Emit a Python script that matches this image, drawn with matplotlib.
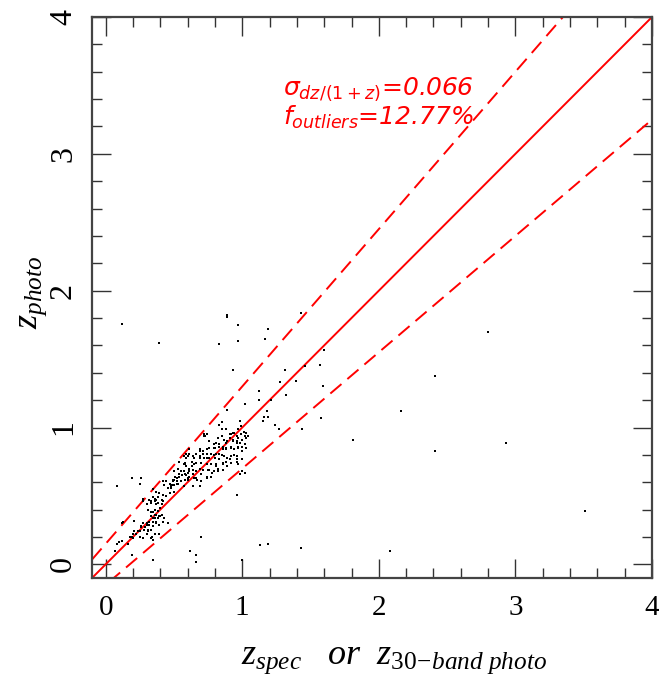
import numpy as np
import matplotlib
matplotlib.use("Agg")
import matplotlib.pyplot as plt
from matplotlib.ticker import MultipleLocator

plt.rcParams['font.family'] = ['Liberation Serif', 'DejaVu Serif']
plt.rcParams['mathtext.fontset'] = 'custom'
plt.rcParams['mathtext.rm'] = 'Liberation Serif'
plt.rcParams['mathtext.it'] = 'Liberation Serif:italic'

# spectroscopic / 30-band redshift vs photometric redshift
# scattered points and outliers
z_spec = [
    1.43, 2.80, 1.60, 1.57, 1.46, 2.41, 1.59, 2.16, 1.58, 1.44, 1.81, 2.93, 2.41, 3.51, 1.43, 2.08,
    0.12, 0.39, 0.885, 0.89, 0.97, 0.83, 0.97, 1.19, 1.17, 0.93, 1.31, 1.28, 1.39, 1.32, 1.12, 1.12,
    1.21, 1.02, 0.89, 1.18, 1.19, 1.16, 1.24, 1.27, 1.15,
    0.46, 0.70, 0.62, 0.66, 0.66, 1.00, 1.13, 1.19,
    0.08, 0.19, 0.26, 0.25, 0.35, 0.19, 0.08, 0.10, 0.12, 0.07, 0.16, 0.19, 0.12, 0.13, 0.21, 0.27,
    0.34, 0.35,
    0.93, 0.97, 0.98, 0.99, 1.01, 1.03, 1.02, 0.96, 0.92, 0.88, 0.91, 0.85,
    0.93, 0.96, 0.98, 0.89, 0.87, 0.85, 0.82, 0.81, 0.79, 0.76, 0.74, 0.72, 0.88, 0.86, 0.83, 0.80,
    0.92, 0.94, 0.97, 1.00, 1.03,
    0.69, 0.66, 0.71, 0.74, 0.77, 0.81, 0.85, 0.87, 0.89, 0.92, 0.94, 0.88, 0.83, 0.80, 0.76, 0.72,
    0.69, 0.65, 0.61, 0.59, 0.57, 0.63, 0.66, 0.70, 0.74, 0.77, 0.81, 0.86, 0.89, 0.96, 1.02, 0.98,
    0.96,
    0.54, 0.57, 0.59, 0.61, 0.64, 0.69, 0.71, 0.75, 0.79, 0.82, 0.55, 0.58, 0.60, 0.64, 0.66, 0.70,
    0.74, 0.53, 0.50,
    0.44, 0.47, 0.49, 0.52, 0.54, 0.48, 0.50, 0.53, 0.55, 0.58, 0.60, 0.46, 0.43, 0.57, 0.64, 0.69,
    0.42,
    0.35, 0.37, 0.39, 0.42, 0.44, 0.38, 0.41, 0.47, 0.50, 0.35, 0.32,
    0.27, 0.30, 0.33, 0.36, 0.31, 0.33, 0.36, 0.38, 0.35, 0.37, 0.39, 0.41, 0.32, 0.30, 0.27, 0.26,
    0.28, 0.31, 0.33, 0.35, 0.42, 0.22, 0.25, 0.27, 0.30, 0.20, 0.21, 0.33, 0.36, 0.39,
]
z_phot = [
    1.84, 1.70, 1.57, 1.46, 1.45, 1.38, 1.30, 1.12, 1.07, 0.99, 0.91, 0.89, 0.83, 0.39, 0.12, 0.10,
    1.76, 1.62, 1.81, 1.82, 1.75, 1.61, 1.63, 1.72, 1.65, 1.42, 1.42, 1.33, 1.34, 1.24, 1.27, 1.20,
    1.20, 1.17, 1.13, 1.12, 1.08, 1.08, 1.02, 0.99, 1.05,
    0.30, 0.20, 0.10, 0.07, 0.02, 0.03, 0.14, 0.15,
    0.57, 0.63, 0.63, 0.59, 0.03, 0.07, 0.15, 0.16, 0.17, 0.10, 0.15, 0.20, 0.30, 0.31, 0.32, 0.48,
    0.20, 0.18,
    0.96, 0.99, 1.05, 1.01, 0.97, 0.96, 0.94, 0.94, 0.95, 0.99, 0.92, 0.99,
    0.91, 0.90, 0.89, 0.90, 0.91, 0.94, 0.92, 0.89, 0.88, 0.90, 0.95, 0.94, 0.85, 0.84, 0.86, 0.85,
    0.85, 0.84, 0.85, 0.86, 0.92,
    0.84, 0.81, 0.83, 0.81, 0.81, 0.81, 0.80, 0.79, 0.78, 0.79, 0.80, 0.75, 0.77, 0.78, 0.78, 0.78,
    0.79, 0.78, 0.84, 0.81, 0.79, 0.75, 0.74, 0.74, 0.73, 0.73, 0.73, 0.73, 0.72, 0.77, 0.67, 0.66,
    0.51,
    0.75, 0.73, 0.72, 0.70, 0.69, 0.70, 0.69, 0.69, 0.68, 0.70, 0.68, 0.66, 0.67, 0.66, 0.63, 0.66,
    0.64, 0.70, 0.68,
    0.61, 0.59, 0.62, 0.63, 0.64, 0.57, 0.58, 0.59, 0.61, 0.62, 0.63, 0.56, 0.58, 0.57, 0.57, 0.57,
    0.61,
    0.55, 0.53, 0.52, 0.51, 0.50, 0.49, 0.47, 0.52, 0.53, 0.49, 0.47,
    0.46, 0.44, 0.45, 0.46, 0.40, 0.38, 0.36, 0.39, 0.34, 0.31, 0.35, 0.36, 0.31, 0.29, 0.30, 0.27,
    0.25, 0.24, 0.25, 0.28, 0.31, 0.22, 0.20, 0.19, 0.22, 0.19, 0.24, 0.19, 0.22, 0.22,
]

# extra points in the dense core of the relation
core_spec = [
    0.85, 0.83, 0.72, 0.73, 0.58, 0.58, 0.50, 0.49, 0.48, 0.52, 0.55, 0.61, 0.65, 0.67, 0.70, 0.74,
    0.77, 0.78, 0.82, 0.86, 0.89, 0.92, 0.96, 1.00, 0.97, 1.00,
    0.91, 0.94, 0.97, 0.99, 1.04, 1.00, 0.96, 0.93, 0.88, 0.86, 0.83, 0.81, 0.79, 0.76, 0.74, 0.71,
    0.69, 0.66, 0.64, 0.61, 0.60, 0.59, 0.63, 0.65, 0.69, 0.74, 0.79, 0.83, 0.88, 0.92, 0.97, 1.02,
    1.03, 1.00, 0.96, 0.91, 0.86, 0.81, 0.76, 0.71, 0.66, 0.61, 0.57, 0.54,
    0.35, 0.37, 0.40, 0.41, 0.43, 0.38, 0.36, 0.33, 0.35, 0.37, 0.39, 0.32, 0.30, 0.26, 0.29, 0.31,
    0.25, 0.24, 0.20, 0.18, 0.36, 0.33, 0.37, 0.38, 0.37, 0.41, 0.42, 0.40, 0.36,
    0.51, 0.54, 0.56, 0.59, 0.60, 0.52, 0.49, 0.48,
]
core_phot = [
    1.04, 1.02, 0.95, 0.94, 0.74, 0.73, 0.62, 0.61, 0.58, 0.59, 0.61, 0.64, 0.63, 0.62, 0.61, 0.63,
    0.64, 0.67, 0.68, 0.69, 0.72, 0.74, 0.75, 0.77, 0.73, 0.68,
    0.95, 0.96, 0.92, 0.95, 0.94, 0.91, 0.89, 0.90, 0.89, 0.86, 0.88, 0.89, 0.85, 0.85, 0.84, 0.81,
    0.83, 0.81, 0.79, 0.81, 0.79, 0.78, 0.72, 0.73, 0.78, 0.78, 0.80, 0.81, 0.84, 0.86, 0.86, 0.88,
    0.85, 0.83, 0.79, 0.77, 0.74, 0.72, 0.69, 0.69, 0.68, 0.68, 0.68, 0.66,
    0.38, 0.36, 0.35, 0.36, 0.34, 0.34, 0.34, 0.35, 0.31, 0.30, 0.29, 0.29, 0.30, 0.28, 0.27, 0.25,
    0.24, 0.24, 0.22, 0.20, 0.48, 0.46, 0.47, 0.45, 0.44, 0.44, 0.46, 0.41, 0.40,
    0.64, 0.64, 0.65, 0.65, 0.62, 0.61, 0.58, 0.56,
]

sigma_txt = "0.066"
fout_txt = "12.77%"
outlier_cut = 0.15
lims = (-0.1, 4.0)

fig = plt.figure(figsize=(6.59, 6.91), dpi=100)
ax = fig.add_axes([0.1396, 0.1635, 0.8498, 0.8119])

ax.scatter(z_spec + core_spec, z_phot + core_phot, s=3.2, c="black", marker="s",
           linewidths=0, zorder=3)

xx = np.array(lims)
ax.plot(xx, xx, color="red", lw=1.4, zorder=2)
ax.plot(xx, xx + outlier_cut * (1 + xx), color="red", lw=1.4, dashes=(7.5, 4), zorder=2)
ax.plot(xx, xx - outlier_cut * (1 + xx), color="red", lw=1.4, dashes=(7.5, 4), zorder=2)

ax.set_xlim(lims)
ax.set_ylim(lims)
ax.xaxis.set_major_locator(MultipleLocator(1))
ax.yaxis.set_major_locator(MultipleLocator(1))
ax.xaxis.set_minor_locator(MultipleLocator(0.2))
ax.yaxis.set_minor_locator(MultipleLocator(0.2))
ax.tick_params(which="both", direction="in", top=True, right=True, color="#333333", width=1.0)
ax.tick_params(which="major", length=14)
ax.tick_params(which="minor", length=7)
ax.tick_params(axis="x", labelsize=21, pad=12)
ax.tick_params(axis="y", labelsize=23, pad=10, labelrotation=90)
for lab in ax.get_yticklabels():
    lab.set_va("center")
for sp in ax.spines.values():
    sp.set_color("#444444")
    sp.set_linewidth(1.6)

ax.set_xlabel(r"$z_{spec}\ \ \ or\ \ z_{30\!-\!band\ photo}$", fontsize=26)
ax.xaxis.set_label_coords(0.54, -0.115)
ax.set_ylabel(r"$z_{photo}$", fontsize=26)
ax.yaxis.set_label_coords(-0.077, 0.51)

ax.text(1.30, 3.43, r"$\sigma_{dz/(1+z)}$=" + sigma_txt, color="red", fontsize=18,
        style="italic", family="DejaVu Sans", math_fontfamily="dejavusans")
ax.text(1.30, 3.21, r"$f_{outliers}$=" + fout_txt, color="red", fontsize=18,
        style="italic", family="DejaVu Sans", math_fontfamily="dejavusans")

fig.savefig("out.png", dpi=100)
